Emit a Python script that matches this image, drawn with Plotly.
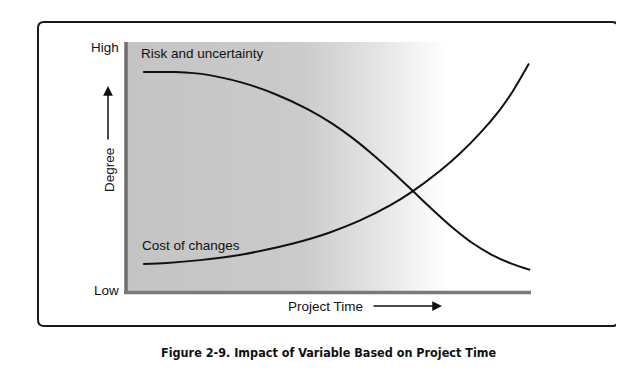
import plotly.graph_objects as go

# ---- data (arbitrary 0-10 scales) ----
risk_x = [0.40, 1.20, 2.00, 2.85, 3.66, 4.48, 5.07, 5.57, 6.06, 6.56, 7.05, 7.55, 8.04, 8.54, 9.03, 9.53, 9.98]
risk_y = [8.80, 8.80, 8.69, 8.38, 7.93, 7.32, 6.76, 6.19, 5.55, 4.84, 4.10, 3.34, 2.63, 2.00, 1.52, 1.16, 0.92]

cost_x = [0.40, 0.99, 1.81, 2.62, 3.47, 4.11, 4.58, 5.02, 5.77, 6.51, 7.05, 7.75, 8.24, 8.74, 9.23, 9.55, 9.95]
cost_y = [1.16, 1.20, 1.31, 1.47, 1.73, 1.97, 2.18, 2.41, 2.89, 3.49, 4.03, 4.87, 5.56, 6.37, 7.30, 8.04, 9.14]

shade_end = 7.9          # where the grey background fades out
y_ticks = ["Low", "High"]
series_labels = ["Risk and uncertainty", "Cost of changes"]
x_title = "Project Time"
y_title = "Degree"
caption = "Figure 2-9. Impact of Variable Based on Project Time"

OFF = 8                  # page body margin of the browser
W, H = 624 - OFF, 382 - OFF
L, R, T, B = 127, 531, 42, 293   # plot area in window pixels


def px(x):
    return (x - L) / (R - L)


def py(y):
    return (B - y) / (B - T)


fig = go.Figure()

# shaded background with horizontal fade
fig.add_trace(go.Scatter(
    x=[0, shade_end, shade_end, 0, 0], y=[0, 0, 10, 10, 0],
    mode="lines", line=dict(width=0), fill="toself",
    fillgradient=dict(type="horizontal",
                      colorscale=[[0, "#c4c4c4"], [0.55, "#cbcbcb"], [0.8, "#e6e6e6"], [1, "#ffffff"]]),
    hoverinfo="skip", showlegend=False))

fig.add_trace(go.Scatter(x=risk_x, y=risk_y, mode="lines",
                         line=dict(color="#111111", width=2, shape="spline", smoothing=0.8),
                         showlegend=False))
fig.add_trace(go.Scatter(x=cost_x, y=cost_y, mode="lines",
                         line=dict(color="#111111", width=2, shape="spline", smoothing=0.8),
                         showlegend=False))

font = dict(family="Liberation Sans, Arial, sans-serif", size=13.5, color="#111111")

annotations = [
    dict(x=px(121), y=py(48), text=y_ticks[1], xanchor="right", yanchor="middle"),
    dict(x=px(121), y=py(290), text=y_ticks[0], xanchor="right", yanchor="middle"),
    dict(x=px(139), y=py(54), text=series_labels[0], xanchor="left", yanchor="middle"),
    dict(x=px(140), y=py(245), text=series_labels[1], xanchor="left", yanchor="middle"),
    dict(x=px(286), y=py(306), text=x_title, xanchor="left", yanchor="middle"),
    dict(x=px(109), y=py(170), text=y_title, textangle=-90, xanchor="center", yanchor="middle"),
]
for a in annotations:
    a.update(xref="paper", yref="paper", showarrow=False, font=font)

# caption
annotations.append(dict(x=px(329), y=py(352), xref="paper", yref="paper", showarrow=False,
                        text="<b>" + caption + "</b>", xanchor="center", yanchor="middle",
                        font=dict(family="DejaVu Sans Condensed, Liberation Sans Narrow, sans-serif",
                                  size=12.5, color="#111111")))

# arrows (Degree up, Project Time right); ax/ay are pixel offsets of the tail
annotations.append(dict(x=px(108), y=py(86), ax=0, ay=55, xref="paper", yref="paper",
                        text="", showarrow=True,
                        arrowhead=2, arrowsize=1.3, arrowwidth=1.5, arrowcolor="#111111"))
annotations.append(dict(x=px(442), y=py(306), ax=-70, ay=0, xref="paper", yref="paper",
                        text="", showarrow=True,
                        arrowhead=2, arrowsize=1.3, arrowwidth=1.5, arrowcolor="#111111"))

shapes = []
# axis lines (thick grey)
shapes.append(dict(type="line", xref="paper", yref="paper", x0=px(126), x1=px(126), y0=py(42), y1=py(294),
                   line=dict(color="#6e6e6e", width=3.5)))
shapes.append(dict(type="line", xref="paper", yref="paper", x0=px(124), x1=px(531), y0=py(292.5), y1=py(292.5),
                   line=dict(color="#7a7a7a", width=3.5)))

# outer rounded frame
x0, x1, y0, y1, r = 38, 618, 22, 326, 6
path = (f"M {px(x0 + r)},{py(y0)} L {px(x1 - r)},{py(y0)} "
        f"Q {px(x1)},{py(y0)} {px(x1)},{py(y0 + r)} "
        f"L {px(x1)},{py(y1 - r)} Q {px(x1)},{py(y1)} {px(x1 - r)},{py(y1)} "
        f"L {px(x0 + r)},{py(y1)} Q {px(x0)},{py(y1)} {px(x0)},{py(y1 - r)} "
        f"L {px(x0)},{py(y0 + r)} Q {px(x0)},{py(y0)} {px(x0 + r)},{py(y0)} Z")
shapes.append(dict(type="path", xref="paper", yref="paper", path=path,
                   line=dict(color="#1a1a1a", width=2)))

fig.update_layout(
    width=W, height=H,
    margin=dict(l=L - OFF, r=624 - R, t=T - OFF, b=382 - B, pad=0),
    paper_bgcolor="white", plot_bgcolor="white",
    xaxis=dict(range=[0, 10], visible=False, fixedrange=True),
    yaxis=dict(range=[0, 10], visible=False, fixedrange=True),
    annotations=annotations, shapes=shapes,
)

fig.write_html("out.html")
